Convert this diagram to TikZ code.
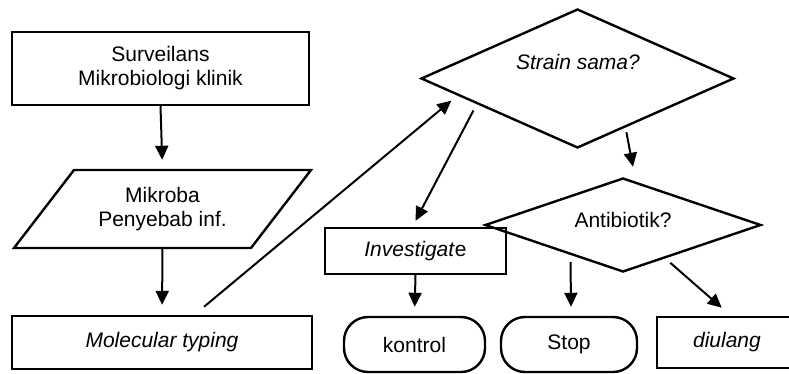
\documentclass[tikz,border=0pt]{standalone}
\usepackage{fontspec}
\setmainfont{Liberation Sans}
\usetikzlibrary{shapes.geometric,arrows.meta,calc}
\begin{document}
\begin{tikzpicture}[x=1pt,y=-1pt,
  lw/.style={line width=2.4pt},
  aw/.style={line width=2pt},
  txt/.style={inner sep=0pt, align=center, font=\fontsize{21}{24}\selectfont},
  box/.style={txt, draw, lw, rectangle},
  term/.style={box, rounded corners=24pt},
  dia/.style={draw, lw, diamond, inner sep=0pt},
  arr/.style={aw, -{Triangle[length=14pt,width=13pt]}}]
\useasboundingbox (0,0) rectangle (789,374);
\clip (0,0) rectangle (789,374);

% left column
\node[box, minimum width=297pt, minimum height=73pt] (surv) at (160.5,68.5)
  {Surveilans\\Mikrobiologi klinik};
\draw[lw] (74,170) -- (311,170) -- (251,248) -- (14,248) -- cycle;
\node[txt, minimum width=237pt, minimum height=78pt] (mikroba) at (162.5,209)
  {Mikroba\\Penyebab inf.};
\node[box, minimum width=300pt, minimum height=53pt] (mol) at (162,342.5)
  {\itshape Molecular typing};

% diamonds
\node[dia, minimum width=313pt, minimum height=139pt] (strain) at (577.5,78.5) {};
\node[txt] (stxt) at (578,62) {\itshape Strain sama?};
\node[box, minimum width=181pt, minimum height=46pt] (inv) at (415.5,251)
  {\textit{Investigat}e};
\node[dia, minimum width=276pt, minimum height=94pt] (anti) at (623,225) {};
\node[txt] (atxt) at (623,220) {Antibiotik?};

% bottom row
\node[term, minimum width=141pt, minimum height=55pt] (kontrol) at (414.5,344.5) {kontrol};
\node[term, minimum width=136pt, minimum height=55pt] (stop) at (569,344.5) {Stop};
\node[box, minimum width=140pt, minimum height=51pt, text width=130pt] (diul) at (727,342.5)
  {\itshape diulang};

% connectors
\draw[arr, shorten >=10pt] (surv.south) -- (mikroba.north);
\draw[arr, shorten >=10pt] (mikroba.south) -- (mol.north);
\draw[arr] ($(mol.north)+(42,-8)$) -- ($($(strain.west)!0.2!(strain.south)$)+(0,8)$);
\draw[arr] ($($(strain.west)!0.34!(strain.south)$)+(0,8)$) -- ([yshift=6pt]inv.north);
\draw[arr] ($($(strain.south)!0.31!(strain.east)$)+(0,5)$) -- ($(anti.north)+(10,-10)$);
\draw[arr, shorten >=9pt] (inv.south) -- (kontrol.north);
\draw[arr] ($($(anti.west)!0.623!(anti.south)$)+(0,7)$) -- ($(stop.north)+(2,-9)$);
\draw[arr] ($($(anti.south)!0.34!(anti.east)$)+(0,6)$) -- ($(diul.north west)+(66,-8)$);
\end{tikzpicture}
\end{document}
